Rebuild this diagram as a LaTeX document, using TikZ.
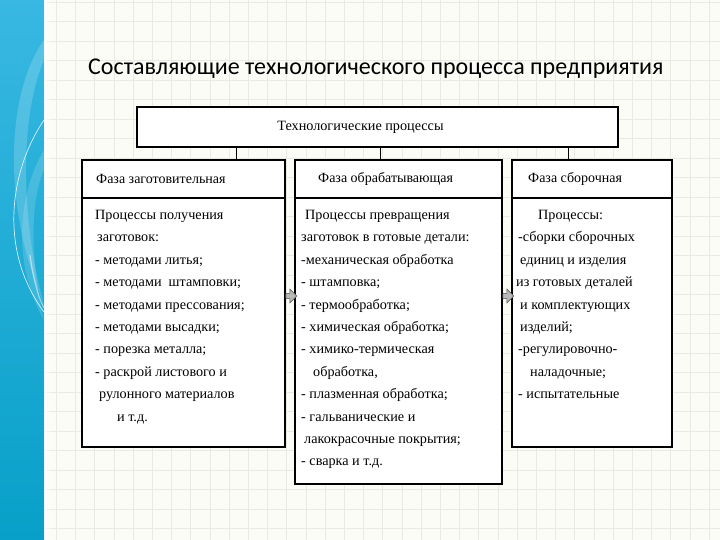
\documentclass[tikz,border=0pt]{standalone}
\usepackage{fontspec}
\setmainfont{Liberation Serif}
\newfontfamily\titlefont{Carlito}
\usetikzlibrary{positioning,shapes.arrows}

\definecolor{paper}{RGB}{252,252,246}
\definecolor{gridcol}{RGB}{234,234,226}
\definecolor{stripetop}{RGB}{56,184,226}
\definecolor{stripebot}{RGB}{8,160,200}

\begin{document}
\begin{tikzpicture}[x=1pt,y=-1pt,
  phase/.style={draw, line width=2.2pt, fill=white, inner sep=0pt, outer sep=0pt},
  headbox/.style={phase, line width=2.8pt},
  bodytext/.style={anchor=north west, align=left, inner sep=0pt,
    font=\fontsize{14.2}{22.4}\selectfont},
  headtext/.style={anchor=west, inner sep=0pt, font=\fontsize{14}{16}\selectfont},
  flowarrow/.style={single arrow, draw=gray!60!black, fill=gray!55, line width=0.6pt,
    minimum height=11pt, minimum width=14pt, single arrow head extend=3pt, inner sep=1.5pt},
  link/.style={line width=0.8pt}
]
\useasboundingbox (0,0) rectangle (720,540);
% slide background
\fill[paper] (0,0) rectangle (720,540);
\foreach \gx in {18,37.2,...,720} \draw[gridcol, line width=0.8pt] (\gx,0) -- (\gx,540);
\foreach \gy in {2,21.5,...,540} \draw[gridcol, line width=0.8pt] (44,\gy) -- (720,\gy);
\shade[top color=stripetop, bottom color=stripebot] (0,0) rectangle (44,540);
\fill[white, opacity=0.7] (44,0) rectangle (47,540);
\fill[white, opacity=0.3] (47,0) rectangle (51,540);
% swirls on the stripe
\fill[white, opacity=0.18] (44,40) .. controls (8,90) and (0,200) .. (44,305)
  .. controls (18,210) and (22,110) .. (44,60) -- cycle;
\fill[white, opacity=0.15] (44,150) .. controls (20,190) and (10,260) .. (44,320)
  .. controls (30,260) and (30,200) .. (44,170) -- cycle;
\draw[white, opacity=0.8, line width=0.7pt] (44,120) .. controls (10,170) and (-2,250) .. (44,312);
\draw[white, opacity=0.5, line width=1.2pt] (30,255) .. controls (34,285) and (40,300) .. (44,308);

% title
\node[anchor=base west, inner sep=0pt, font=\titlefont\fontsize{24}{28}\selectfont] (title) at (88,75)
  {Составляющие технологического процесса предприятия};

% top box
\node[headbox, minimum width=481pt, minimum height=40pt,
  label={[xshift=-17pt, font=\fontsize{14.2}{16}\selectfont]center:Технологические процессы}]
  (top) at (377.5,127) {};

% phase headers
\node[phase, minimum width=203pt, minimum height=38pt] (lhead) at (183.5,179) {};
\node[phase, minimum width=207pt, minimum height=38pt] (mhead) at (398.5,179) {};
\node[phase, minimum width=160pt, minimum height=38pt] (rhead) at (592,179) {};
\node[headtext, right=14pt of lhead.west] (ltitle) {Фаза заготовительная};
\node[headtext, right=23pt of mhead.west] (mtitle) {Фаза обрабатывающая};
\node[headtext, right=16pt of rhead.west] (rtitle) {Фаза сборочная};

% phase bodies
\node[phase, minimum width=203pt, minimum height=249pt] (lbody) at (183.5,322.5) {};
\node[phase, minimum width=207pt, minimum height=286pt] (mbody) at (398.5,341) {};
\node[phase, minimum width=160pt, minimum height=249pt] (rbody) at (592,322.5) {};

\node[bodytext, below right=12pt and 13pt of lbody.north west] (ltext) {%
Процессы получения\\
\hspace*{2pt}заготовок:\\
- методами литья;\\
- методами\ \ штамповки;\\
- методами прессования;\\
- методами высадки;\\
- порезка металла;\\
- раскрой листового и\\
\hspace*{4pt}рулонного материалов\\
\hspace*{22pt}и т.д.};
\node[bodytext, below right=12pt and 6pt of mbody.north west] (mtext) {%
\hspace*{4pt}Процессы превращения\\
заготовок в готовые детали:\\
-механическая обработка\\
- штамповка;\\
- термообработка;\\
- химическая обработка;\\
- химико-термическая\\
\hspace*{12pt}обработка,\\
- плазменная обработка;\\
- гальванические и\\
\hspace*{3pt}лакокрасочные покрытия;\\
- сварка и т.д.};
\node[bodytext, below right=12pt and 4pt of rbody.north west] (rtext) {%
\hspace*{22pt}Процессы:\\
\hspace*{2pt}-сборки сборочных\\
\hspace*{4pt}единиц и изделия\\
из готовых деталей\\
\hspace*{4pt}и комплектующих\\
\hspace*{4pt}изделий;\\
\hspace*{2pt}-регулировочно-\\
\hspace*{14pt}наладочные;\\
\hspace*{2pt}- испытательные};

% links from the top box
\draw[link] ([xshift=52.5pt]lhead.north) -- ([xshift=52.5pt]lhead.north |- top.south);
\draw[link] ([xshift=-18.5pt]mhead.north) -- ([xshift=-18.5pt]mhead.north |- top.south);
\draw[link] ([xshift=-24pt]rhead.north) -- ([xshift=-24pt]rhead.north |- top.south);

% arrows between phases
\node[flowarrow] (a1) at (290,296) {};
\node[flowarrow] (a2) at (507,296) {};
\end{tikzpicture}
\end{document}
